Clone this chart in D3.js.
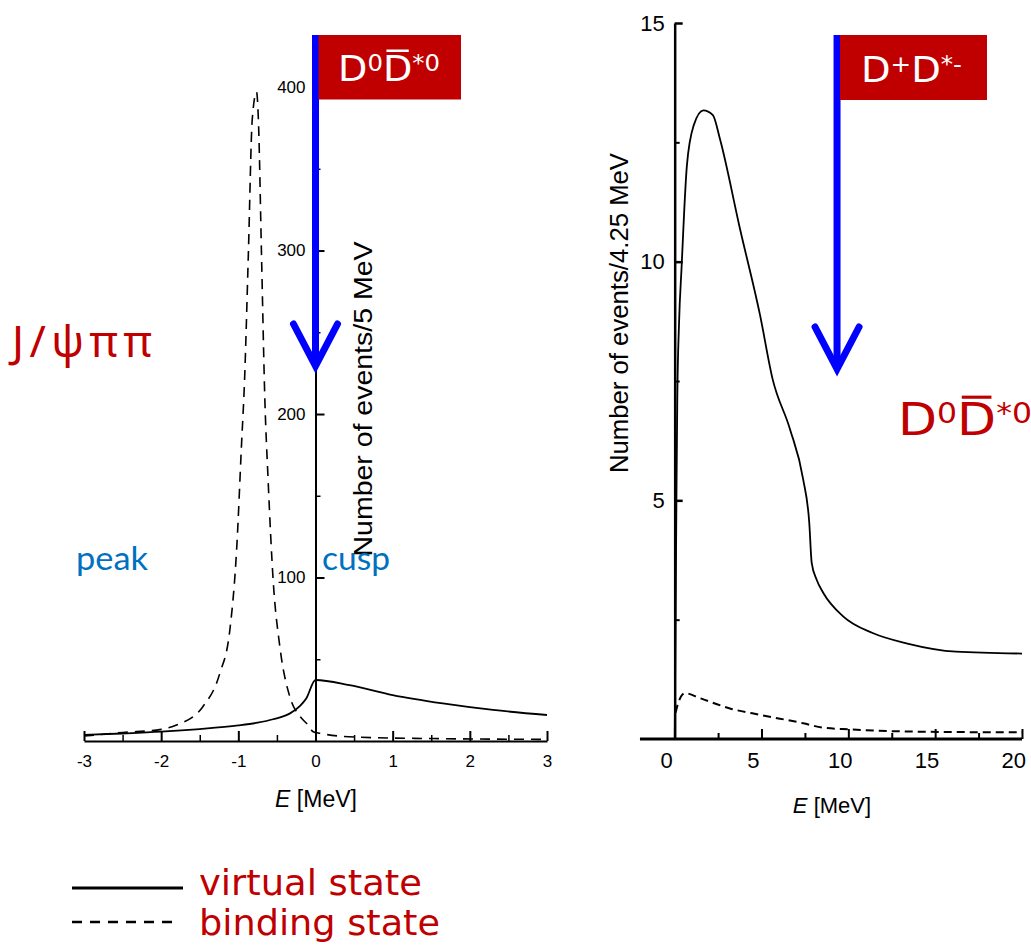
<!DOCTYPE html>
<html>
<head>
<meta charset="utf-8">
<script src="https://cdn.jsdelivr.net/npm/d3@7"></script>
<style>
	body { margin: 0; background: #ffffff; }
	svg { display: block; }
	.tick text { font-family: "Liberation Sans", Arial, sans-serif; fill: #000000; }
</style>
</head>
<body>
<svg id="chart" width="1031" height="946"></svg>
<script>

/* LEFT PANEL DATA (E in MeV, number of events / 5 MeV) */
var left_Virtual_E = [-3, -2.5, -2, -1.5, -1, -0.75, -0.55, -0.33, -0.2, -0.12, 0, 0.44, 1.0, 1.65, 2.3, 3];
var left_Virtual_N = [3.7, 4.6, 5.7, 7.3, 9.5, 11.2, 13.3, 16.9, 21.5, 26, 37.3, 34.2, 28.1, 23, 19, 15.9];

var left_Binding_E = [-3, -2.5, -2, -1.8, -1.46, -1.24, -1.11, -1.02, -0.96, -0.92, -0.87, -0.82, -0.764, -0.74, -0.70, -0.657, -0.614, -0.549, -0.462, -0.333, -0.2, -0.117, -0.03, 0.056, 0.57, 1.5, 3];
var left_Binding_N = [3, 5.2, 7.1, 9.8, 21, 41.4, 67.9, 118.8, 180, 220, 298, 380, 397, 380, 298, 210, 159.6, 98.5, 57.7, 27.1, 15, 10.8, 5.7, 4.7, 2.3, 1.5, 1];

var left_X_Major = [-3, -2, -1, 0, 1, 2, 3];
var left_X_Minor = [-2.5, -1.5, -0.5, 0.5, 1.5, 2.5];
var left_Y_Major = [100, 200, 300, 400];
var left_Y_Minor = [50, 150, 250, 350];

/* RIGHT PANEL DATA (E in MeV, number of events / 4.25 MeV) */
var right_Virtual_E = [0.5, 0.55, 0.6, 0.65, 0.75, 0.9, 1.2, 1.6, 2.15, 2.7, 3.1, 4.26, 5.41, 6.14, 7.14, 7.9, 8.25, 8.39, 8.67, 9.06, 10.2, 11.9, 13.9, 16.7, 20.5];
var right_Virtual_N = [0, 2.5, 5, 7.1, 8.7, 9.9, 12.0, 12.86, 13.17, 13.07, 12.58, 10.69, 8.89, 7.54, 6.49, 5.44, 4.53, 3.69, 3.34, 3.06, 2.57, 2.22, 2.0, 1.83, 1.79];

var right_Binding_E = [0.55, 0.7, 1.09, 2.0, 3.68, 5.5, 7.9, 9.0, 10.6, 15.2, 20.5];
var right_Binding_N = [0.55, 0.75, 0.96, 0.85, 0.64, 0.5, 0.33, 0.24, 0.2, 0.15, 0.14];

var right_X_Labels = [0, 5, 10, 15, 20];
var right_X_Major = [5.5, 10.5, 15.5, 20.5];
var right_X_Minor = [3, 8, 13, 18];
var right_X_Extent = [-1.5, 20.5];
var right_Y_Major = [5, 10, 15];
var right_Y_Minor = [2.5, 7.5, 12.5];

/* COLOURS */
var dark_Red = "#C00000";
var arrow_Blue = "#0000FF";
var note_Blue = "#0070C0";

var svg = d3.select("#chart");

var x_Left = d3.scaleLinear().domain([-3, 3]).range([84, 547]);
var y_Left = d3.scaleLinear().domain([0, 430]).range([741, 38]);
var x_Right = d3.scaleLinear().domain([0, 20]).range([666, 1013.3]);
var y_Right = d3.scaleLinear().domain([0, 15]).range([739, 23]);

function pairs(a, b) {
	return a.map(function(e, i) { return [e, b[i]]; });
}

/*
	Name:		draw_Axis
	Operations:	1) append an axis group
				2) style its lines and labels
*/
function draw_Axis(axis, transform, font_Size, width, keep_Domain) {

	var g = svg.append("g").attr("transform", transform).call(axis);
	g.selectAll("line").attr("stroke", "#000").attr("stroke-width", width);
	g.selectAll("text").style("font-size", font_Size + "px");

	if(keep_Domain)
		g.select(".domain").attr("stroke", "#000").attr("stroke-width", width);
	else
		g.select(".domain").remove();
	return g;
}

/* LEFT AXES */
var plain = function(d){ return String(d); };

draw_Axis(d3.axisBottom(x_Left).tickValues(left_X_Major).tickFormat(plain)
			.tickSize(-10).tickSizeOuter(0).tickPadding(14), "translate(0,741)", 17, 2, true);
draw_Axis(d3.axisBottom(x_Left).tickValues(left_X_Minor).tickFormat("")
			.tickSize(-6).tickSizeOuter(0), "translate(0,741)", 17, 1.5, false);

draw_Axis(d3.axisLeft(y_Left).tickValues(left_Y_Major).tickFormat(plain)
			.tickSize(-9).tickSizeOuter(0).tickPadding(10), "translate(" + x_Left(0) + ",0)", 17, 2, true);
draw_Axis(d3.axisLeft(y_Left).tickValues(left_Y_Minor).tickFormat("")
			.tickSize(-5).tickSizeOuter(0), "translate(" + x_Left(0) + ",0)", 17, 1.5, false);

/* RIGHT AXES */
svg.append("line")
	.attr("x1", x_Right(right_X_Extent[0])).attr("x2", x_Right(right_X_Extent[1]))
	.attr("y1", y_Right(0)).attr("y2", y_Right(0))
	.attr("stroke", "#000").attr("stroke-width", 3);

draw_Axis(d3.axisBottom(x_Right).tickValues(right_X_Major).tickFormat("")
			.tickSize(-10), "translate(0," + y_Right(0) + ")", 22, 2, false);
draw_Axis(d3.axisBottom(x_Right).tickValues(right_X_Minor).tickFormat("")
			.tickSize(-6), "translate(0," + y_Right(0) + ")", 22, 2, false);
draw_Axis(d3.axisBottom(x_Right).tickValues(right_X_Labels).tickFormat(plain)
			.tickSize(0).tickPadding(13), "translate(0," + y_Right(0) + ")", 22, 0, false);

draw_Axis(d3.axisLeft(y_Right).tickValues(right_Y_Major).tickFormat(plain)
			.tickSize(-8).tickSizeOuter(0).tickPadding(10), "translate(" + x_Right(0.5) + ",0)", 22, 2.5, true);
draw_Axis(d3.axisLeft(y_Right).tickValues(right_Y_Minor).tickFormat("")
			.tickSize(-5).tickSizeOuter(0), "translate(" + x_Right(0.5) + ",0)", 22, 2, false);

/* AXIS TITLES */
function axis_Title(x, y, size) {
	var t = svg.append("text").attr("x", x).attr("y", y)
				.attr("text-anchor", "middle")
				.style("font-family", "Liberation Sans, Arial, sans-serif")
				.style("font-size", size + "px");
	t.append("tspan").style("font-style", "italic").text("E");
	t.append("tspan").text(" [MeV]");
}
axis_Title(316, 807, 23);
axis_Title(832, 813, 22);

svg.append("text")
	.attr("transform", "translate(372,399) rotate(-90)")
	.attr("text-anchor", "middle")
	.attr("textLength", 315).attr("lengthAdjust", "spacingAndGlyphs")
	.style("font-family", "Liberation Sans, Arial, sans-serif")
	.style("font-size", "26px")
	.text("Number of events/5 MeV");

svg.append("text")
	.attr("transform", "translate(628,313) rotate(-90)")
	.attr("text-anchor", "middle")
	.attr("textLength", 320).attr("lengthAdjust", "spacingAndGlyphs")
	.style("font-family", "Liberation Sans, Arial, sans-serif")
	.style("font-size", "25px")
	.text("Number of events/4.25 MeV");

/* CURVES */
function draw_Curve(x, y, e, n, dash, width) {
	var line = d3.line()
				.x(function(d){ return x(d[0]); })
				.y(function(d){ return y(d[1]); })
				.curve(d3.curveMonotoneX);
	svg.append("path")
		.attr("d", line(pairs(e, n)))
		.attr("fill", "none")
		.attr("stroke", "#000")
		.attr("stroke-width", width)
		.attr("stroke-dasharray", dash);
}

draw_Curve(x_Left, y_Left, left_Binding_E, left_Binding_N, "10,7", 1.6);
draw_Curve(x_Left, y_Left, left_Virtual_E, left_Virtual_N, null, 1.8);
draw_Curve(x_Right, y_Right, right_Binding_E, right_Binding_N, "8,5", 2);
draw_Curve(x_Right, y_Right, right_Virtual_E, right_Virtual_N, null, 1.8);

/* BLUE ARROWS */
function draw_Arrow(x, top, tip) {
	svg.append("line").attr("x1", x).attr("x2", x).attr("y1", top).attr("y2", tip - 3)
		.attr("stroke", arrow_Blue).attr("stroke-width", 7);
	svg.append("polyline")
		.attr("points", [[x - 22, tip - 42], [x, tip], [x + 22, tip - 42]].join(" "))
		.attr("fill", "none").attr("stroke", arrow_Blue)
		.attr("stroke-width", 7).attr("stroke-linecap", "round").attr("stroke-linejoin", "miter");
}
draw_Arrow(x_Left(0), 35, 366);
draw_Arrow(x_Right(9.85), 35, 369);

/*
	Name:		particle_Label
	Operations:	1) write main letters and superscripts
				2) stretch to the measured width
				3) draw overline above chosen character
*/
function particle_Label(x, y, size, sup_Size, shift, colour, parts, bar_Index, length) {

	var t = svg.append("text").attr("x", x).attr("y", y)
				.attr("textLength", length).attr("lengthAdjust", "spacingAndGlyphs")
				.style("font-family", "DejaVu Sans, Verdana, sans-serif")
				.attr("fill", colour);
	var level = 0;
	parts.forEach(function(p){
		var target = p.sup ? -shift : 0;
		t.append("tspan")
			.attr("dy", target - level)
			.style("font-size", (p.sup ? sup_Size : size) + "px")
			.text(p.s);
		level = target;
	});

	if(bar_Index != null){
		var box = t.node().getExtentOfChar(bar_Index);
		var bar_Y = y - size * 0.84;
		svg.append("line")
			.attr("x1", box.x + box.width * 0.12).attr("x2", box.x + box.width * 0.88)
			.attr("y1", bar_Y).attr("y2", bar_Y)
			.attr("stroke", colour).attr("stroke-width", size * 0.07);
	}
}

svg.append("rect").attr("x", 318.5).attr("y", 35).attr("width", 142.5).attr("height", 64.5).attr("fill", dark_Red);
svg.append("rect").attr("x", 840).attr("y", 35).attr("width", 147).attr("height", 65).attr("fill", dark_Red);

particle_Label(338, 81, 36, 23, 10, "#ffffff",
	[{s: "D"}, {s: "0", sup: true}, {s: "D"}, {s: "*0", sup: true}], 2, 102);
particle_Label(861, 82, 36, 23, 10, "#ffffff",
	[{s: "D"}, {s: "+", sup: true}, {s: "D"}, {s: "*-", sup: true}], null, 101);
particle_Label(898, 435, 45, 28, 12, dark_Red,
	[{s: "D"}, {s: "0", sup: true}, {s: "D"}, {s: "*0", sup: true}], 2, 134);

/* RED AND BLUE NOTES */
svg.append("text").attr("x", 12).attr("y", 357)
	.attr("textLength", 140).attr("lengthAdjust", "spacing")
	.style("font-family", "Noto Sans, DejaVu Sans, sans-serif").style("font-size", "44px")
	.attr("fill", dark_Red).text("J/ψππ");

svg.append("text").attr("x", 76).attr("y", 570)
	.attr("textLength", 72).attr("lengthAdjust", "spacingAndGlyphs")
	.style("font-family", "Lato, Noto Sans, sans-serif").style("font-size", "33px")
	.attr("fill", note_Blue).text("peak");

svg.append("text").attr("x", 322).attr("y", 570)
	.attr("textLength", 68).attr("lengthAdjust", "spacingAndGlyphs")
	.style("font-family", "Lato, Noto Sans, sans-serif").style("font-size", "33px")
	.attr("fill", note_Blue).text("cusp");

/* LEGEND */
svg.append("line").attr("x1", 72).attr("x2", 183).attr("y1", 888).attr("y2", 888)
	.attr("stroke", "#000").attr("stroke-width", 3);
svg.append("line").attr("x1", 72).attr("x2", 178).attr("y1", 922).attr("y2", 922)
	.attr("stroke", "#000").attr("stroke-width", 2.5).attr("stroke-dasharray", "10,8");

svg.append("text").attr("x", 199).attr("y", 895)
	.attr("textLength", 223).attr("lengthAdjust", "spacingAndGlyphs")
	.style("font-family", "DejaVu Sans, Verdana, sans-serif").style("font-size", "36px")
	.attr("fill", dark_Red).text("virtual state");
svg.append("text").attr("x", 199).attr("y", 935)
	.attr("textLength", 241).attr("lengthAdjust", "spacingAndGlyphs")
	.style("font-family", "DejaVu Sans, Verdana, sans-serif").style("font-size", "36px")
	.attr("fill", dark_Red).text("binding state");

</script>
</body>
</html>
